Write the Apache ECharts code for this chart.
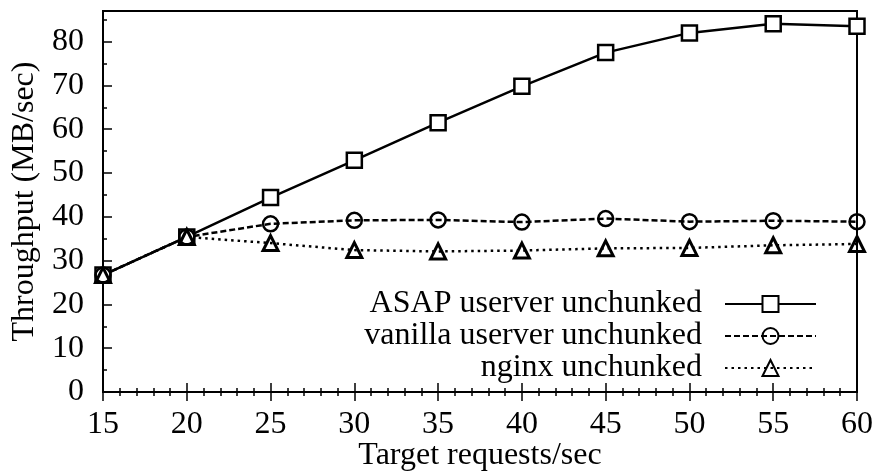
<!DOCTYPE html>
<html>
<head>
<meta charset="utf-8">
<script src="https://cdn.jsdelivr.net/npm/echarts@6/dist/echarts.min.js"></script>
<style>
html,body{margin:0;padding:0;background:#fff;}
#chart{width:879px;height:473px;}
</style>
</head>
<body>
<div id="chart"></div>
<script>
const targetRates = [15, 20, 25, 30, 35, 40, 45, 50, 55, 60];
const asapUnchunked = [26.7, 35.4, 44.4, 52.9, 61.5, 69.8, 77.5, 82.0, 84.1, 83.5];
const vanillaUnchunked = [26.7, 35.4, 38.4, 39.2, 39.3, 38.8, 39.6, 38.9, 39.1, 38.9];
const nginxUnchunked = [26.7, 35.4, 34.0, 32.4, 32.1, 32.3, 32.8, 32.9, 33.5, 33.8];
const seriesNames = ['ASAP userver unchunked', 'vanilla userver unchunked', 'nginx unchunked'];
const yMajorTicks = [0, 10, 20, 30, 40, 50, 60, 70, 80];
const yMinorTicks = [5, 15, 25, 35, 45, 55, 65, 75, 85];

const FONT = 'Liberation Serif';
const FS = 32;
const pairs = vals => targetRates.map((x, i) => [x, vals[i]]);

const xCommon = {
  type: 'value', min: 15, max: 60, interval: 5,
  axisLine: { show: false },
  axisTick: { show: true, inside: true, length: 9, lineStyle: { color: '#000', width: 1.5 } },
  minorTick: { show: true, splitNumber: 5, length: 4, lineStyle: { color: '#000', width: 1.5 } },
  splitLine: { show: false }
};

const chart = echarts.init(document.getElementById('chart'), null, { renderer: 'canvas' });
chart.setOption({
  animation: false,
  backgroundColor: '#fff',
  grid: { left: 103, right: 22, top: 11, bottom: 81, outerBoundsMode: 'none', containLabel: false, show: true, borderColor: '#000', borderWidth: 2, backgroundColor: 'transparent' },
  legend: {
    right: 62, top: 288, orient: 'vertical', align: 'right', padding: 0,
    itemWidth: 91, itemHeight: 20, itemGap: 0,
    data: seriesNames,
    textStyle: { fontFamily: FONT, fontSize: FS, color: '#000', lineHeight: 31, padding: [0, 18, 0, 0] }
  },
  xAxis: [
    Object.assign({}, xCommon, {
      position: 'bottom',
      axisLabel: { show: true, fontFamily: FONT, fontSize: FS, color: '#000', margin: 17 },
      name: 'Target requests/sec', nameLocation: 'middle', nameGap: 48, nameMoveOverlap: false,
      nameTextStyle: { fontFamily: FONT, fontSize: FS, color: '#000' }
    }),
    Object.assign({}, xCommon, { position: 'top', axisLabel: { show: false } })
  ],
  yAxis: [
    {
      type: 'value', min: 0, max: 87, position: 'left',
      axisLine: { show: false },
      axisTick: { show: true, inside: true, length: 9, customValues: yMajorTicks, lineStyle: { color: '#000', width: 1.5 } },
      axisLabel: { show: true, customValues: yMajorTicks, fontFamily: FONT, fontSize: FS, color: '#000', margin: 19 },
      splitLine: { show: false },
      name: 'Throughput (MB/sec)', nameLocation: 'middle', nameGap: 62, nameRotate: 90, nameMoveOverlap: false,
      nameTextStyle: { fontFamily: FONT, fontSize: FS, color: '#000' }
    },
    {
      type: 'value', min: 0, max: 87, position: 'left',
      axisLine: { show: false },
      axisTick: { show: true, inside: true, length: 4, customValues: yMinorTicks, lineStyle: { color: '#000', width: 1.5 } },
      axisLabel: { show: false },
      splitLine: { show: false }
    }
  ],
  series: [
    {
      name: seriesNames[0], type: 'line', data: pairs(asapUnchunked),
      symbol: 'rect', symbolSize: 15,
      itemStyle: { color: '#fff', borderColor: '#000', borderWidth: 2.5 },
      lineStyle: { color: '#000', width: 2.5, type: 'solid' }
    },
    {
      name: seriesNames[1], type: 'line', data: pairs(vanillaUnchunked),
      symbol: 'circle', symbolSize: 15,
      itemStyle: { color: 'rgba(255,255,255,0)', borderColor: '#000', borderWidth: 2.5 },
      lineStyle: { color: '#000', width: 2.5, type: [6, 3] }
    },
    {
      name: seriesNames[2], type: 'line', data: pairs(nginxUnchunked),
      symbol: 'triangle', symbolSize: 15,
      itemStyle: { color: 'rgba(255,255,255,0)', borderColor: '#000', borderWidth: 3 },
      lineStyle: { color: '#000', width: 2.5, type: [2.5, 4] }
    }
  ]
});
</script>
</body>
</html>
